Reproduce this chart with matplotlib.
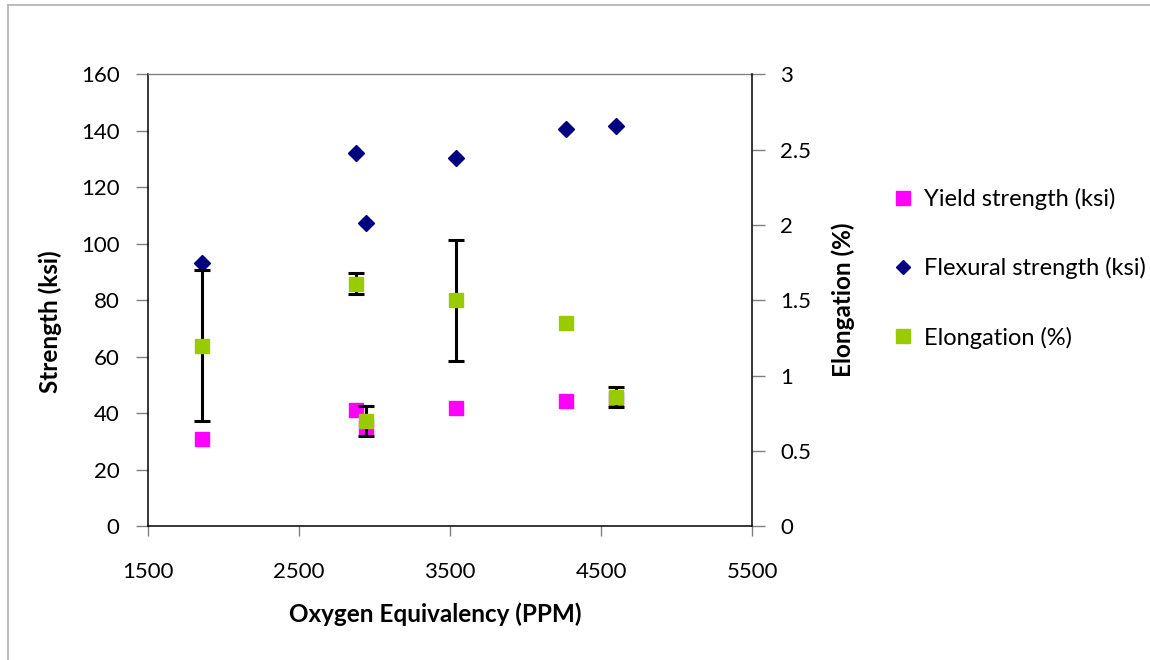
import matplotlib
matplotlib.use("Agg")
import matplotlib.pyplot as plt
from matplotlib.lines import Line2D

plt.rcParams['font.family'] = ['Lato', 'DejaVu Sans']

# Oxygen equivalency (PPM) for each sample
oxygen_ppm = [1858, 2882, 2944, 3538, 4266, 4599]
# Strength values (ksi), left axis
yield_ksi = [31.0, 41.2, 35.3, 41.8, 44.2, 45.0]
flexural_ksi = [93.3, 132.1, 107.2, 130.4, 140.8, 141.8]
# Elongation (%), right axis, with its spread
elongation_pct = [1.20, 1.61, 0.70, 1.50, 1.35, 0.86]
elongation_err = [0.50, 0.07, 0.10, 0.40, 0.0, 0.065]

x_ticks = [1500, 2500, 3500, 4500, 5500]
left_ticks = [0, 20, 40, 60, 80, 100, 120, 140, 160]
right_ticks = [0, 0.5, 1, 1.5, 2, 2.5, 3]

PINK = '#FF00FF'
NAVY = '#000080'
GREEN = '#99CC00'
TICK_GRAY = '#808080'

TICK_FS = 16
LABEL_FS = 17.5
LEGEND_FS = 17

W, H = 1150, 660
fig = plt.figure(figsize=(W / 100, H / 100), dpi=100)

# Outer chart frame (top and left edges)
fig.add_artist(Line2D([8 / W, 1], [1 - 5 / H, 1 - 5 / H], color='#b0b0b0', lw=1.2))
fig.add_artist(Line2D([8 / W, 8 / W], [0, 1 - 5 / H], color='#b0b0b0', lw=1.2))

left, right, top, bottom = 147.5, 752.3, 74.3, 526.3
ax = fig.add_axes([left / W, 1 - bottom / H, (right - left) / W, (bottom - top) / H])
ax2 = ax.twinx()

ax.plot(oxygen_ppm, yield_ksi, linestyle='none', marker='s', markersize=10.5,
        color=PINK, markeredgecolor=PINK, zorder=3)
ax.plot(oxygen_ppm, flexural_ksi, linestyle='none', marker='D', markersize=8,
        color=NAVY, markeredgecolor=NAVY, zorder=3)

err_x = [x for x, e in zip(oxygen_ppm, elongation_err) if e > 0]
err_y = [y for y, e in zip(elongation_pct, elongation_err) if e > 0]
err_e = [e for e in elongation_err if e > 0]
ax2.errorbar(err_x, err_y, yerr=err_e, fmt='none', ecolor='black',
             elinewidth=2.2, capsize=6, capthick=2.2, zorder=2)
ax2.plot(oxygen_ppm, elongation_pct, linestyle='none', marker='s', markersize=10.5,
         color=GREEN, markeredgecolor=GREEN, zorder=4)

ax.set_xlim(1500, 5500)
ax.set_ylim(0, 160)
ax2.set_ylim(0, 3)
ax.set_xticks(x_ticks)
ax.set_xticklabels([str(t) for t in x_ticks])
ax.set_yticks(left_ticks)
ax.set_yticklabels([str(t) for t in left_ticks])
ax2.set_yticks(right_ticks)
ax2.set_yticklabels(['0', '0.5', '1', '1.5', '2', '2.5', '3'])

for a in (ax, ax2):
    for s in a.spines.values():
        s.set_visible(False)
ax.spines['left'].set_visible(True)
ax.spines['bottom'].set_visible(True)
ax2.spines['right'].set_visible(True)
ax.spines['top'].set_visible(True)
for s in ('left', 'bottom'):
    ax.spines[s].set_color('black')
    ax.spines[s].set_linewidth(1.1)
ax2.spines['right'].set_color('black')
ax2.spines['right'].set_linewidth(1.1)
ax.spines['top'].set_color(TICK_GRAY)
ax.spines['top'].set_linewidth(1.0)

ax.tick_params(axis='x', direction='out', length=7, width=1, color=TICK_GRAY,
               labelsize=TICK_FS, pad=19)
ax.tick_params(axis='y', direction='out', length=9, width=1, color=TICK_GRAY,
               labelsize=TICK_FS, pad=11)
ax2.tick_params(axis='y', direction='out', length=9, width=1, color=TICK_GRAY,
                labelsize=TICK_FS, pad=11)

ax.set_xlabel('Oxygen Equivalency (PPM)', fontsize=LABEL_FS, fontweight='bold')
ax.xaxis.set_label_coords((435 - left) / (right - left), (bottom - 614) / (bottom - top))
ax.xaxis.label.set_va('center')
ax.set_ylabel('Strength (ksi)', fontsize=LABEL_FS, fontweight='bold')
ax.yaxis.set_label_coords((50 - left) / (right - left), (bottom - 322) / (bottom - top))
ax.yaxis.label.set_va('center')
ax2.set_ylabel('Elongation (%)', fontsize=LABEL_FS, fontweight='bold')
ax2.yaxis.set_label_coords((843 - left) / (right - left), (bottom - 300) / (bottom - top))
ax2.yaxis.label.set_va('center')

handles = [
    Line2D([], [], linestyle='none', marker='s', markersize=10, color=PINK),
    Line2D([], [], linestyle='none', marker='D', markersize=7.5, color=NAVY),
    Line2D([], [], linestyle='none', marker='s', markersize=10, color=GREEN),
]
labels = ['Yield strength (ksi)', 'Flexural strength (ksi)', 'Elongation (%)']
fig.legend(handles, labels, loc='upper left', bbox_to_anchor=(894 / W, 1 - 188 / H),
           frameon=False, fontsize=LEGEND_FS, labelspacing=2.0, handlelength=0.8,
           handletextpad=0.45, borderpad=0, borderaxespad=0)

fig.savefig('out.png', dpi=100)
